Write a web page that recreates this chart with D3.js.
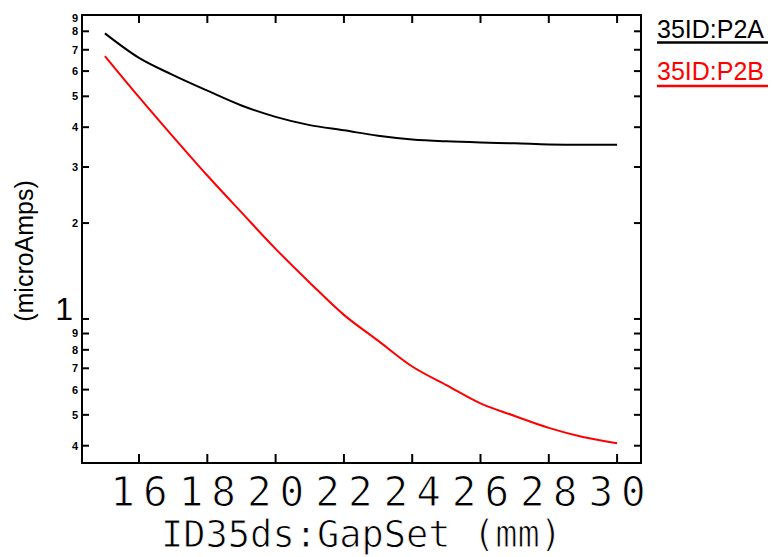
<!DOCTYPE html>
<html>
<head>
<meta charset="utf-8">
<script src="https://cdn.jsdelivr.net/npm/d3@7"></script>
<style>
  html, body { margin: 0; padding: 0; background: #fff; }
  svg { display: block; }
</style>
</head>
<body>
<svg id="chart" width="772" height="557"></svg>
<script>
// ---- data ----
const gapSet = [15, 16, 17, 18, 19, 20, 21, 22, 23, 24, 25, 26, 27, 28, 29, 30];
const p2a = [7.88, 6.6, 5.83, 5.21, 4.68, 4.31, 4.06, 3.91, 3.76, 3.66, 3.61, 3.58, 3.56, 3.53, 3.52, 3.52];
const p2b = [6.69, 4.97, 3.73, 2.82, 2.16, 1.66, 1.30, 1.03, 0.855, 0.709, 0.62, 0.543, 0.496, 0.455, 0.426, 0.407];
const seriesNames = ["35ID:P2A", "35ID:P2B"];
const seriesColors = ["#000000", "#ff0000"];
const xTicks = [16, 18, 20, 22, 24, 26, 28, 30];
const yMinorTicks = [0.4, 0.5, 0.6, 0.7, 0.8, 0.9, 2, 3, 4, 5, 6, 7, 8, 9];
const yMajorTicks = [1];
const xTitle = "ID35ds:GapSet (mm)";
const yTitle = "(microAmps)";

// ---- layout ----
const pL = 82, pR = 641, pT = 15, pB = 463;
const svg = d3.select("#chart");

const x = d3.scaleLinear().domain([14.33, 30.7]).range([pL, pR]);
const y = d3.scaleLog().domain([0.353, 9]).range([pB, pT]);

// frame
svg.append("rect")
  .attr("x", pL).attr("y", pT)
  .attr("width", pR - pL).attr("height", pB - pT)
  .attr("fill", "none").attr("stroke", "#000").attr("stroke-width", 2);

// x ticks (bottom & top, inward)
const xt = svg.append("g");
xTicks.forEach(v => {
  xt.append("line").attr("x1", x(v)).attr("x2", x(v))
    .attr("y1", pB).attr("y2", pB - 9)
    .attr("stroke", "#000").attr("stroke-width", 2);
  xt.append("line").attr("x1", x(v)).attr("x2", x(v))
    .attr("y1", pT).attr("y2", pT + 8)
    .attr("stroke", "#000").attr("stroke-width", 2);
});
const ls = 8;
svg.append("g").selectAll("text").data(xTicks).join("text")
  .attr("x", d => x(d)).attr("y", 506)
  .attr("dx", ls / 2)
  .attr("text-anchor", "middle")
  .style("font-family", "'DejaVu Sans Mono', monospace")
  .style("font-size", "41px")
  .style("letter-spacing", ls + "px")
  .attr("fill", "#000")
  .attr("stroke", "#fff").attr("stroke-width", 1.0)
  .text(d => String(d));

// y ticks (left & right, inward)
const allY = yMinorTicks.concat(yMajorTicks);
const yt = svg.append("g");
allY.forEach(v => {
  yt.append("line").attr("x1", pL).attr("x2", pL + 7)
    .attr("y1", y(v)).attr("y2", y(v))
    .attr("stroke", "#000").attr("stroke-width", 2);
  yt.append("line").attr("x1", pR).attr("x2", pR - 7)
    .attr("y1", y(v)).attr("y2", y(v))
    .attr("stroke", "#000").attr("stroke-width", 2);
});
// minor labels: small bold first digit
svg.append("g").selectAll("text").data(yMinorTicks).join("text")
  .attr("x", 78)
  .attr("y", d => Math.max(y(d), 18))
  .attr("dy", "0.36em")
  .attr("text-anchor", "end")
  .style("font-family", "'Liberation Sans', Arial, sans-serif")
  .style("font-size", "11px")
  .style("font-weight", "bold")
  .attr("fill", "#000")
  .text(d => d < 1 ? String(Math.round(d * 10)) : String(d));
// major label
svg.append("g").selectAll("text").data(yMajorTicks).join("text")
  .attr("x", 73)
  .attr("y", d => y(d) + 1)
  .attr("text-anchor", "end")
  .style("font-family", "'Liberation Sans', Arial, sans-serif")
  .style("font-size", "32px")
  .attr("fill", "#000")
  .text(d => String(d));

// lines
const line = d3.line().x(d => x(d[0])).y(d => y(d[1])).curve(d3.curveMonotoneX);
[p2a, p2b].forEach((vals, i) => {
  svg.append("path")
    .datum(gapSet.map((g, j) => [g, vals[j]]))
    .attr("d", line)
    .attr("fill", "none")
    .attr("stroke", seriesColors[i])
    .attr("stroke-width", 2);
});

// legend
const legBase = [37.5, 80];
const legLine = [42.5, 86];
seriesNames.forEach((name, i) => {
  svg.append("text")
    .attr("x", 657).attr("y", legBase[i])
    .style("font-family", "'Liberation Sans', Arial, sans-serif")
    .style("font-size", "25px")
    .attr("fill", seriesColors[i])
    .text(name);
  svg.append("line")
    .attr("x1", 657).attr("x2", 768)
    .attr("y1", legLine[i]).attr("y2", legLine[i])
    .attr("stroke", seriesColors[i]).attr("stroke-width", 2.5);
});

// axis titles
svg.append("text")
  .attr("x", (pL + pR) / 2).attr("y", 547)
  .attr("text-anchor", "middle")
  .style("font-family", "'DejaVu Sans Mono', monospace")
  .style("font-size", "37px")
  .attr("fill", "#000")
  .attr("stroke", "#fff").attr("stroke-width", 0.9)
  .text(xTitle);

svg.append("text")
  .attr("transform", "translate(33,251) rotate(-90)")
  .attr("text-anchor", "middle")
  .style("font-family", "'Liberation Sans', Arial, sans-serif")
  .style("font-size", "25px")
  .attr("fill", "#000")
  .text(yTitle);
</script>
</body>
</html>
